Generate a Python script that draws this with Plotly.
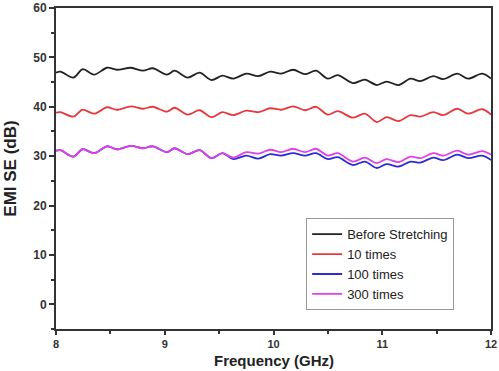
import plotly.graph_objects as go

freq = [8.0, 8.04, 8.16, 8.245, 8.35, 8.47, 8.56, 8.69, 8.80, 8.89, 9.02, 9.09, 9.21, 9.32, 9.43, 9.53,
        9.63, 9.75, 9.86, 9.97, 10.07, 10.18, 10.29, 10.39, 10.50, 10.59, 10.73, 10.84, 10.95, 11.04,
        11.15, 11.26, 11.35, 11.47, 11.56, 11.69, 11.79, 11.92, 12.0]

before = [46.9, 47.1, 45.9, 47.6, 46.5, 47.9, 47.5, 47.9, 47.3, 47.8, 46.5, 47.3, 45.9, 46.9, 45.4, 46.3,
          45.7, 46.7, 46.2, 47.1, 46.7, 47.5, 46.6, 47.3, 45.7, 46.4, 44.8, 45.5, 44.4, 45.1,
          44.4, 45.7, 45.2, 46.2, 45.6, 46.7, 45.7, 46.7, 45.7]

t10 = [38.8, 38.9, 38.0, 39.4, 38.6, 39.9, 39.4, 40.1, 39.6, 40.0, 39.0, 39.8, 38.4, 39.3, 37.9, 38.9,
       38.3, 39.2, 38.9, 39.7, 39.4, 40.1, 39.3, 40.0, 38.4, 39.1, 37.8, 38.6, 36.9, 37.9,
       37.1, 38.3, 38.0, 38.9, 38.3, 39.6, 38.6, 39.5, 38.4]

t100 = [31.1, 31.2, 29.9, 31.4, 30.6, 32.0, 31.4, 32.1, 31.6, 32.0, 30.8, 31.6, 30.4, 31.2, 29.6, 30.6,
        29.4, 30.1, 29.5, 30.4, 30.1, 30.6, 30.1, 30.6, 29.4, 29.8, 28.2, 28.9, 27.6, 28.4,
        27.9, 28.9, 28.7, 29.7, 29.2, 30.3, 29.6, 30.1, 29.2]

t300 = [31.1, 31.2, 29.9, 31.4, 30.6, 32.0, 31.4, 32.1, 31.6, 32.0, 30.8, 31.6, 30.4, 31.2, 29.6, 30.6,
        29.7, 30.8, 30.5, 31.3, 30.8, 31.5, 30.8, 31.5, 30.1, 30.6, 28.9, 29.7, 28.6, 29.4,
        28.8, 29.9, 29.6, 30.6, 30.1, 31.1, 30.3, 31.0, 30.3]

names = ["Before Stretching", "10 times", "100 times", "300 times"]
colors = ["#222222", "#e8383d", "#2b2bd9", "#e040e8"]
series = [before, t10, t100, t300]

fig = go.Figure()
for nm, col, ys in zip(names, colors, series):
    fig.add_trace(go.Scatter(x=freq, y=ys, name=nm, mode="lines",
                             line=dict(color=col, width=1.8, shape="spline", smoothing=0.9)))

font = "Arial, Liberation Sans, sans-serif"
fig.update_layout(
    width=499, height=371,
    margin=dict(l=56, r=8, t=8, b=42),
    paper_bgcolor="white", plot_bgcolor="white",
    font=dict(family=font, color="#333333"),
    legend=dict(x=0.575, y=0.345, xanchor="left", yanchor="top",
                bgcolor="white", bordercolor="#999999", borderwidth=1,
                font=dict(size=13, family=font, color="#222222"),
                itemwidth=30, tracegroupgap=0),
    showlegend=True,
)
fig.add_annotation(text="<b>Frequency (GHz)</b>", xref="paper", yref="paper",
                   x=0.5, y=-0.1277, xanchor="center", yanchor="bottom", showarrow=False,
                   borderpad=0,
                   font=dict(size=15, family=font, color="#222222"))
fig.update_xaxes(
    range=[8, 12], dtick=1, tick0=8, automargin=False,
    showline=True, linecolor="#333333", linewidth=2, mirror=True,
    ticks="outside", ticklen=4, tickwidth=1.5, tickcolor="#333333",
    minor=dict(ticks="outside", ticklen=3, dtick=0.5, tickcolor="#333333", tickwidth=1.5),
    showgrid=False, zeroline=False,
    tickfont=dict(size=11, family=font, color="#333333", weight="bold"),
)
fig.update_yaxes(
    range=[-5, 60], dtick=10, tick0=0, automargin=False,
    showline=True, linecolor="#333333", linewidth=2, mirror=True,
    ticks="outside", ticklen=5, tickwidth=1.5, tickcolor="#333333",
    minor=dict(ticks="outside", ticklen=3, dtick=5, tickcolor="#333333", tickwidth=1.5),
    showgrid=False, zeroline=False,
    tickfont=dict(size=12, family=font, color="#333333", weight="bold"),
    title=dict(text="<b>EMI SE (dB)</b>", font=dict(size=17, family=font, color="#222222"), standoff=12),
)
fig.write_html("out.html")
